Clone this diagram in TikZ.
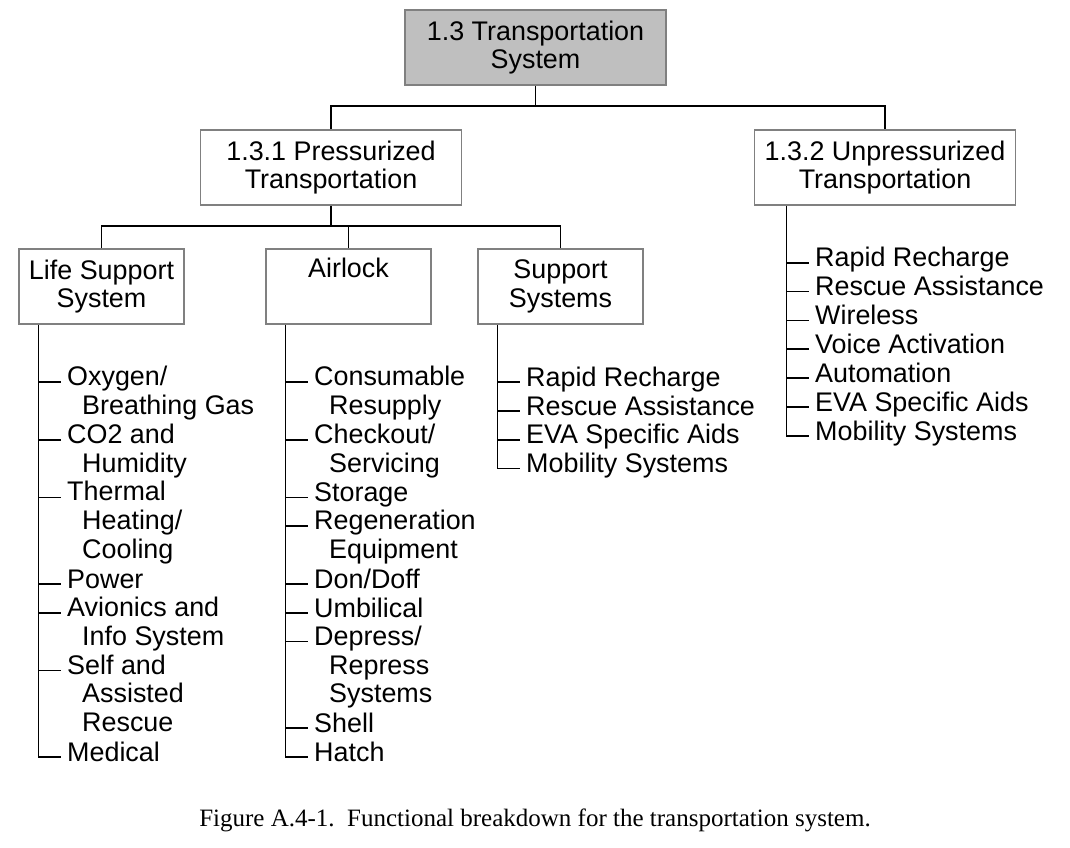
\documentclass[tikz,border=0pt]{standalone}
\usepackage{fontspec}
\setmainfont{Liberation Sans}
\newfontfamily\capfont{Liberation Serif}
\usetikzlibrary{calc}
\definecolor{boxgray}{RGB}{128,128,128}
\definecolor{topfill}{RGB}{191,191,191}
\newcommand{\ind}{\hspace*{15pt}}
% line pitch of the lists and height of the first-line strut
\def\ls{28.85}
\def\sh{20.195}
\begin{document}
\begin{tikzpicture}[x=1pt,y=-1pt,
  txt/.style={font=\fontsize{26.9}{28.85}\selectfont},
  box/.style={txt, draw=boxgray, line width=1.7pt, minimum height=75pt, inner sep=0pt, align=center},
  wide/.style={box, minimum width=261pt},
  narrow/.style={box, minimum width=165pt},
  item/.style={txt, anchor=north west, inner sep=0pt, align=left, execute at begin node=\strut},
  link/.style={line width=1.6pt, black},
]
\useasboundingbox (0,0) rectangle (1070,847);

% boxes
\node[wide, fill=topfill] (top) at (535.5,47.5) {1.3 Transportation\\System};
\node[wide] (pr) at (331,167.5) {1.3.1 Pressurized\\Transportation};
\node[wide] (up) at (885,167.5) {1.3.2 Unpressurized\\Transportation};
\node[narrow] (ls) at (101.5,286.5) {Life Support\\System};
\node[narrow] (al) at (348.5,286.5) {Airlock\\\strut};
\node[narrow] (ss) at (560.5,286.5) {Support\\Systems};

% tree connectors
\coordinate (j1) at (535.5,106);
\coordinate (j2) at (331,226);
\draw[link] (top.south) -- (j1);
\draw[link] (pr.north) |- (j1) -| (up.north);
\draw[link] (pr.south) -- (j2);
\draw[link] (ls.north) |- (j2) -| (ss.north);
\draw[link] (al.north) -- (al.north |- j2);

% Life Support System items (first baseline at 386)
\node[item] (o1) at (67,{386-\sh}) {Oxygen/\\\ind Breathing Gas};
\node[item] (o2) at (67,{386+2*\ls-\sh}) {CO2 and\\\ind Humidity};
\node[item] (o3) at (67,{386+4*\ls-\sh}) {Thermal\\\ind Heating/\\\ind Cooling};
\node[item] (o4) at (67,{386+7*\ls-\sh}) {Power};
\node[item] (o5) at (67,{386+8*\ls-\sh}) {Avionics and\\\ind Info System};
\node[item] (o6) at (67,{386+10*\ls-\sh}) {Self and\\\ind Assisted\\\ind Rescue};
\node[item] (o7) at (67,{386+13*\ls-\sh}) {Medical};

% Airlock items
\node[item] (a1) at (314,{386-\sh}) {Consumable\\\ind Resupply};
\node[item] (a2) at (314,{386+2*\ls-\sh}) {Checkout/\\\ind Servicing};
\node[item] (a3) at (314,{386+4*\ls-\sh}) {Storage};
\node[item] (a4) at (314,{386+5*\ls-\sh}) {Regeneration\\\ind Equipment};
\node[item] (a5) at (314,{386+7*\ls-\sh}) {Don/Doff};
\node[item] (a6) at (314,{386+8*\ls-\sh}) {Umbilical};
\node[item] (a7) at (314,{386+9*\ls-\sh}) {Depress/\\\ind Repress\\\ind Systems};
\node[item] (a8) at (314,{386+12*\ls-\sh}) {Shell};
\node[item] (a9) at (314,{386+13*\ls-\sh}) {Hatch};

% Support Systems items
\node[item] (s1) at (526,{386-\sh}) {Rapid Recharge};
\node[item] (s2) at (526,{386+\ls-\sh}) {Rescue Assistance};
\node[item] (s3) at (526,{386+2*\ls-\sh}) {EVA Specific Aids};
\node[item] (s4) at (526,{386+3*\ls-\sh}) {Mobility Systems};

% Unpressurized Transportation items (first baseline at 266.7)
\node[item] (u1) at (815,{266.7-\sh}) {Rapid Recharge};
\node[item] (u2) at (815,{266.7+\ls-\sh}) {Rescue Assistance};
\node[item] (u3) at (815,{266.7+2*\ls-\sh}) {Wireless};
\node[item] (u4) at (815,{266.7+3*\ls-\sh}) {Voice Activation};
\node[item] (u5) at (815,{266.7+4*\ls-\sh}) {Automation};
\node[item] (u6) at (815,{266.7+5*\ls-\sh}) {EVA Specific Aids};
\node[item] (u7) at (815,{266.7+6*\ls-\sh}) {Mobility Systems};

% list spines and ticks, ticks 4pt above each first baseline
\foreach \hd/\last/\rest in {ls/o7/{o1,o2,o3,o4,o5,o6}, al/a9/{a1,a2,a3,a4,a5,a6,a7,a8}, ss/s4/{s1,s2,s3}, up/u7/{u1,u2,u3,u4,u5,u6}} {
  \coordinate (sp) at ($(\last.north west)+(-28.5,\sh-4)$);
  \draw[link] (sp |- \hd.south) |- ($(\last.north west)+(-6.5,\sh-4)$);
  \foreach \n in \rest {
    \draw[link] ($(\n.north west)+(-28.5,\sh-4)$) -- ($(\n.north west)+(-6.5,\sh-4)$);
  }
}

% caption
\node[font=\capfont\fontsize{25}{28}\selectfont, anchor=base, inner sep=0pt] (cap) at (535,826)
  {Figure A.4-1.\ \ Functional breakdown for the transportation system.};
\end{tikzpicture}
\end{document}
